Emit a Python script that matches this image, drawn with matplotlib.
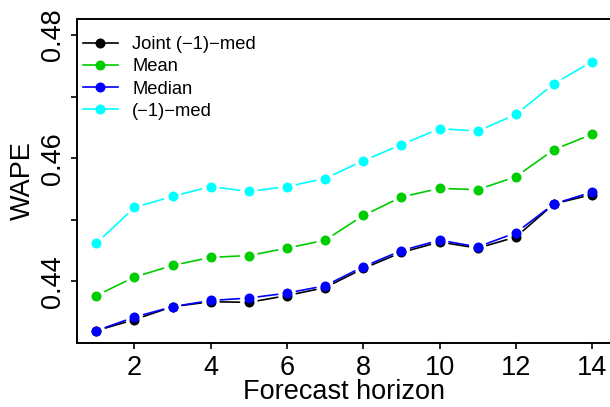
import matplotlib
matplotlib.use("Agg")
import matplotlib.pyplot as plt
from matplotlib.lines import Line2D

plt.rcParams['font.family'] = ['Liberation Sans', 'DejaVu Sans']

horizon = list(range(1, 15))

joint_med = [0.4320, 0.4338, 0.4359, 0.4367, 0.4366, 0.4377, 0.4390,
             0.4421, 0.4447, 0.4464, 0.4454, 0.4472, 0.4526, 0.4541]
mean_vals = [0.4377, 0.4407, 0.4426, 0.4439, 0.4442, 0.4454, 0.4467,
             0.4507, 0.4537, 0.4551, 0.4549, 0.4570, 0.4614, 0.4639]
median_vals = [0.4320, 0.4342, 0.4359, 0.4369, 0.4373, 0.4381, 0.4393,
               0.4424, 0.4450, 0.4467, 0.4456, 0.4479, 0.4526, 0.4545]
neg1_med = [0.4462, 0.4520, 0.4538, 0.4554, 0.4546, 0.4554, 0.4567,
            0.4596, 0.4622, 0.4648, 0.4644, 0.4671, 0.4721, 0.4757]

series_names = ["Joint (\u22121)\u2212med", "Mean", "Median", "(\u22121)\u2212med"]
series_values = [joint_med, mean_vals, median_vals, neg1_med]
series_colors = ["#000000", "#00CD00", "#0000FF", "#00FFFF"]

x_ticks = [2, 4, 6, 8, 10, 12, 14]
y_ticks = [0.44, 0.45, 0.46, 0.47, 0.48]
y_tick_labels = ["0.44", "", "0.46", "", "0.48"]

fig = plt.figure(figsize=(6.10, 4.07), dpi=100)
ax = fig.add_axes([76.5 / 610, 1 - 343 / 407, (612 - 76.5) / 610, (343 - 19) / 407])

LW = 1.2
MS = 7.2
GAP = 6.8  # points left open around each marker

for vals, col in zip(series_values, series_colors):
    # "both" style: markers joined by segments that stop short of each marker
    for i in range(len(horizon) - 1):
        ax.annotate("", xy=(horizon[i + 1], vals[i + 1]), xytext=(horizon[i], vals[i]),
                    arrowprops=dict(arrowstyle="-", color=col, lw=LW,
                                    shrinkA=GAP, shrinkB=GAP),
                    annotation_clip=False)
    ax.plot(horizon, vals, linestyle="none", marker="o", markersize=MS,
            color=col, markeredgewidth=0)

ax.set_xlim(0.48, 14.52)
ax.set_ylim(0.4300, 0.4826)
ax.set_xticks(x_ticks)
ax.set_yticks(y_ticks)
ax.set_yticklabels(y_tick_labels)
ax.tick_params(axis="x", labelsize=19.5, length=4, width=1.2, direction="out", pad=4.5)
ax.tick_params(axis="y", labelsize=19.5, length=4, width=1.2, direction="out", pad=3.5)
for lab in ax.get_yticklabels():
    lab.set_rotation(90)
    lab.set_va("center")

for sp in ax.spines.values():
    sp.set_linewidth(1.4)

ax.set_xlabel("Forecast horizon", fontsize=19.5, labelpad=-1)
ax.set_ylabel("WAPE", fontsize=19.5, labelpad=3)

handles = [Line2D([], [], color=c, lw=LW, marker="o", markersize=MS, markeredgewidth=0)
           for c in series_colors]
ax.legend(handles, series_names, loc="upper left", bbox_to_anchor=(0.005, 0.958),
          frameon=False, fontsize=13.2, handlelength=1.9, handletextpad=0.8,
          labelspacing=0.28, borderpad=0.2, borderaxespad=0)

fig.savefig("out.png", dpi=100)
